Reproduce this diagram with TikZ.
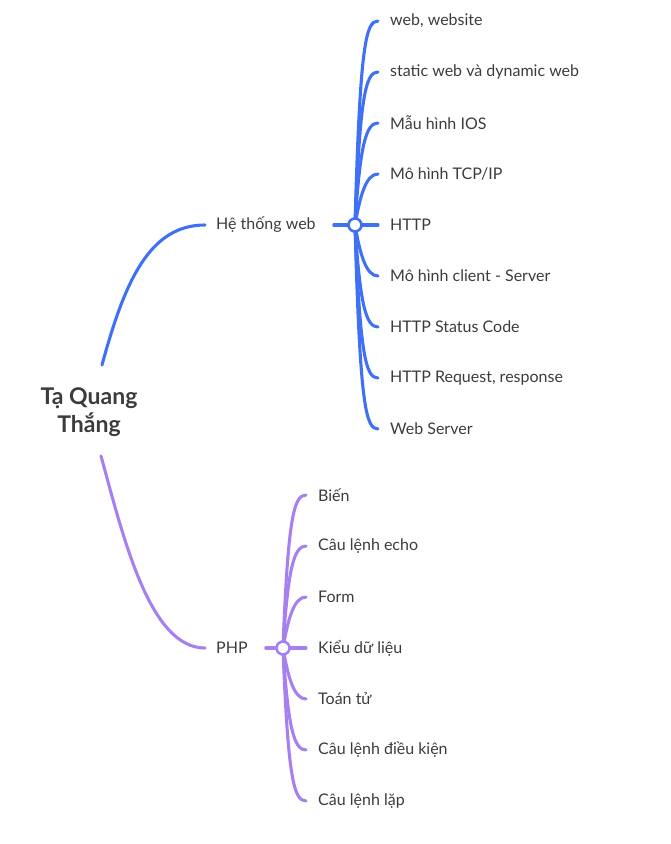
\documentclass[tikz,border=0pt]{standalone}
\usepackage{fontspec}
\setmainfont{Lato}
\usetikzlibrary{calc,positioning}
\definecolor{webblue}{HTML}{4071F5}
\definecolor{phppurple}{HTML}{A780F0}
\definecolor{ink}{HTML}{3C3C3C}
\tikzset{
  leaf/.style={anchor=west,inner xsep=12pt,inner ysep=2pt,text=ink,font=\fontsize{16}{19}\selectfont},
  topic/.style={leaf,inner xsep=11pt},
  hub/.style={circle,draw,fill=white,line width=2.6pt,minimum size=13pt,inner sep=0pt},
  branch/.style={line width=3.1pt,line cap=round},
}

\begin{document}
\begin{tikzpicture}[x=1pt,y=-1pt]
  \useasboundingbox (0,0) rectangle (670,844);
  \node[align=center,text=ink,font=\bfseries\fontsize{23}{28}\selectfont,inner xsep=0pt,inner ysep=21pt] (root) at (89,412) {Tạ Quang\\Thắng};
  % main topics
  \node[topic] (web) at (205,225) {Hệ thống web};
  \node[topic] (php) at (205,648) {PHP};
  \coordinate (jw) at (355,225);
  \coordinate (jp) at (283,648);
  \draw[branch,webblue] (102,365) .. controls (125,280) and (150,225) .. (web.west);
  \draw[branch,phppurple] (101,456) .. controls (124,540) and (150,648) .. (php.west);
  \draw[branch,webblue,shorten <=7pt] (web.east) -- (jw);
  \draw[branch,phppurple,shorten <=7pt] (php.east) -- (jp);
  % web leaves
  \foreach \i/\t in {1/{web, website},2/{static web và dynamic web},3/{Mẫu hình IOS},
    4/{Mô hình TCP/IP},5/{HTTP},6/{Mô hình client - Server},7/{HTTP Status Code},
    8/{HTTP Request, response},9/{Web Server}}
    \node[leaf] (w\i) at (378,{21+51*(\i-1)}) {\t};
  \foreach \i in {1,...,4}
    \draw[branch,webblue] (jw) .. controls ([shift={(-18pt,-22pt)}]w\i.west) and ([xshift=-12pt]w\i.west) .. (w\i.west);
  \foreach \i in {6,...,9}
    \draw[branch,webblue] (jw) .. controls ([shift={(-18pt,22pt)}]w\i.west) and ([xshift=-12pt]w\i.west) .. (w\i.west);
  \draw[branch,webblue] (jw) -- (w5.west);
  % php leaves
  \foreach \i/\t in {1/{Biến},2/{Câu lệnh echo},3/{Form},4/{Kiểu dữ liệu},
    5/{Toán tử},6/{Câu lệnh điều kiện},7/{Câu lệnh lặp}}
    \node[leaf] (p\i) at (306,{495+51*(\i-1)}) {\t};
  \foreach \i in {1,...,3}
    \draw[branch,phppurple] (jp) .. controls ([shift={(-18pt,-22pt)}]p\i.west) and ([xshift=-12pt]p\i.west) .. (p\i.west);
  \foreach \i in {5,...,7}
    \draw[branch,phppurple] (jp) .. controls ([shift={(-18pt,22pt)}]p\i.west) and ([xshift=-12pt]p\i.west) .. (p\i.west);
  \draw[branch,phppurple] (jp) -- (p4.west);
  % hubs on top
  \node[hub,draw=webblue] at (jw) {};
  \node[hub,draw=phppurple] at (jp) {};
\end{tikzpicture}
\end{document}
